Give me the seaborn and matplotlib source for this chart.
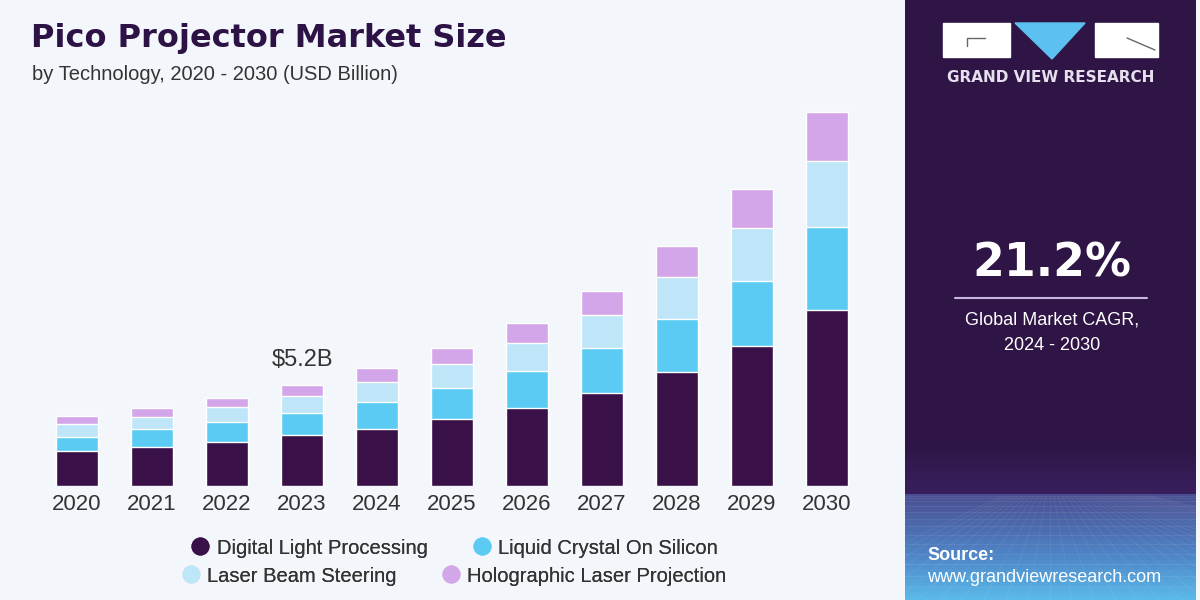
import numpy as np
import pandas as pd
import seaborn as sns
import matplotlib.pyplot as plt
from matplotlib.lines import Line2D
from matplotlib.patches import Rectangle, Polygon
from matplotlib.colors import LinearSegmentedColormap

years = ["2020", "2021", "2022", "2023", "2024", "2025", "2026", "2027", "2028", "2029", "2030"]
dlp = [1.80, 2.02, 2.28, 2.61, 2.92, 3.45, 4.03, 4.80, 5.85, 7.21, 9.06]
lcos = [0.72, 0.90, 1.01, 1.13, 1.39, 1.61, 1.91, 2.29, 2.73, 3.36, 4.26]
lbs = [0.67, 0.65, 0.76, 0.91, 1.06, 1.22, 1.41, 1.70, 2.19, 2.70, 3.41]
hlp = [0.41, 0.43, 0.49, 0.55, 0.69, 0.81, 1.06, 1.27, 1.58, 2.01, 2.54]
segments = ["Digital Light Processing", "Liquid Crystal On Silicon",
            "Laser Beam Steering", "Holographic Laser Projection"]
colors = ["#3a1048", "#5ccbf4", "#bfe6f8", "#d3a6ea"]
label_year = "2023"
label_text = "$5.2B"

BG = "#f3f7fb"
PANEL = "#2f1546"
TXT = "#333333"

sns.set_theme(style="white")
plt.rcParams["font.family"] = ["Liberation Sans", "DejaVu Sans"]

df = pd.DataFrame({"year": years, "dlp": dlp, "lcos": lcos, "lbs": lbs, "hlp": hlp})
stack = df[["dlp", "lcos", "lbs", "hlp"]].cumsum(axis=1)

fig = plt.figure(figsize=(12, 6), dpi=100, facecolor=BG)
ax = fig.add_axes([39.5 / 1200, 0.19, 825 / 1200, 386 / 600])
ax.set_facecolor(BG)

# draw cumulative layers from the top down so each covers the ones beneath
for col, color in zip(["hlp", "lbs", "lcos", "dlp"], colors[::-1]):
    sns.barplot(x=df["year"], y=stack[col], color=color, saturation=1,
                width=0.57, ax=ax, zorder=2)

ax.set_xlim(-0.5, 10.5)
ax.set_ylim(0, 19.87)
sns.despine(ax=ax, left=True, bottom=True)
ax.set_yticks([])
ax.set_xlabel("")
ax.set_ylabel("")
ax.tick_params(axis="x", length=0, pad=6, labelsize=16, labelcolor=TXT)

i = years.index(label_year)
ax.annotate(label_text, (i, stack["hlp"][i]), xytext=(0, 10), textcoords="offset points",
            ha="center", va="bottom", fontsize=17, color=TXT)

# titles
fig.text(31 / 1200, 1 - 38 / 600, "Pico Projector Market Size", fontsize=23,
         fontweight="bold", family=["DejaVu Sans"], color="#2d1245", va="center")
fig.text(32 / 1200, 1 - 75 / 600, "by Technology, 2020 - 2030 (USD Billion)",
         fontsize=14.5, color=TXT, va="center")

# legend, two centred rows
def handles(names, cols):
    return [Line2D([], [], marker="o", ls="", ms=12, mfc=c, mec=c, label=n)
            for n, c in zip(names, cols)]

for row, yy in [(0, 548), (1, 576)]:
    h = handles(segments[2 * row:2 * row + 2], colors[2 * row:2 * row + 2])
    leg = fig.legend(handles=h, loc="center", bbox_to_anchor=(454 / 1200, 1 - yy / 600),
                     ncol=2, frameon=False, fontsize=14.5, handletextpad=0.3,
                     columnspacing=2.2, handlelength=1.0, labelcolor=TXT)
    fig.add_artist(leg)

# right panel
pax = fig.add_axes([905 / 1200, 0, 291 / 1200, 1])
pax.set_xlim(0, 291)
pax.set_ylim(600, 0)
pax.axis("off")
grad = LinearSegmentedColormap.from_list(
    "panel", [(0, PANEL), (0.74, PANEL), (0.824, "#38205e"), (0.827, "#4a4f92"),
              (0.93, "#4f86c8"), (1, "#5ab9e8")])
pax.imshow(np.linspace(0, 1, 600)[:, None], aspect="auto", cmap=grad,
           extent=(0, 291, 600, 0), zorder=0)
# faint perspective grid at the bottom
for k in range(14):
    yk = 496 + 104 * (k / 13) ** 1.6
    pax.plot([0, 291], [yk, yk], color="white", alpha=0.07, lw=0.8, zorder=1)
for k in range(-12, 26):
    pax.plot([145 + k * 4, 145 + k * 22], [496, 600], color="white", alpha=0.06, lw=0.8, zorder=1)

# logo
pax.add_patch(Rectangle((38, 23), 67, 34, color="white", zorder=2))
pax.add_patch(Polygon([(110, 23), (180, 23), (147, 59)], color="#5cc0f0", zorder=2))
pax.add_patch(Rectangle((190, 23), 63, 34, color="white", zorder=2))
pax.plot([62, 62, 80], [46, 38, 38], color="#666666", lw=1, zorder=3)
pax.plot([222, 250], [38, 50], color="#666666", lw=1, zorder=3)
pax.text(145.5, 78, "GRAND VIEW RESEARCH", ha="center", va="center", fontsize=11,
         fontweight="bold", family=["DejaVu Sans"], color="#e6e0ee", zorder=3)

pax.text(147, 264, "21.2%", ha="center", va="center", fontsize=33, fontweight="bold",
         family=["DejaVu Sans"], color="white", zorder=3)
pax.plot([50, 242], [298, 298], color="#c8b8e0", lw=1.5, zorder=3)
pax.text(147, 320, "Global Market CAGR,", ha="center", va="center", fontsize=13,
         color="white", zorder=3)
pax.text(147, 346, "2024 - 2030", ha="center", va="center", fontsize=13,
         color="white", zorder=3)

pax.text(22, 556, "Source:", ha="left", va="center", fontsize=13, fontweight="bold",
         color="white", zorder=3)
pax.text(22, 578, "www.grandviewresearch.com", ha="left", va="center", fontsize=13,
         color="white", zorder=3)

fig.savefig("out.png", dpi=100, facecolor=BG)
